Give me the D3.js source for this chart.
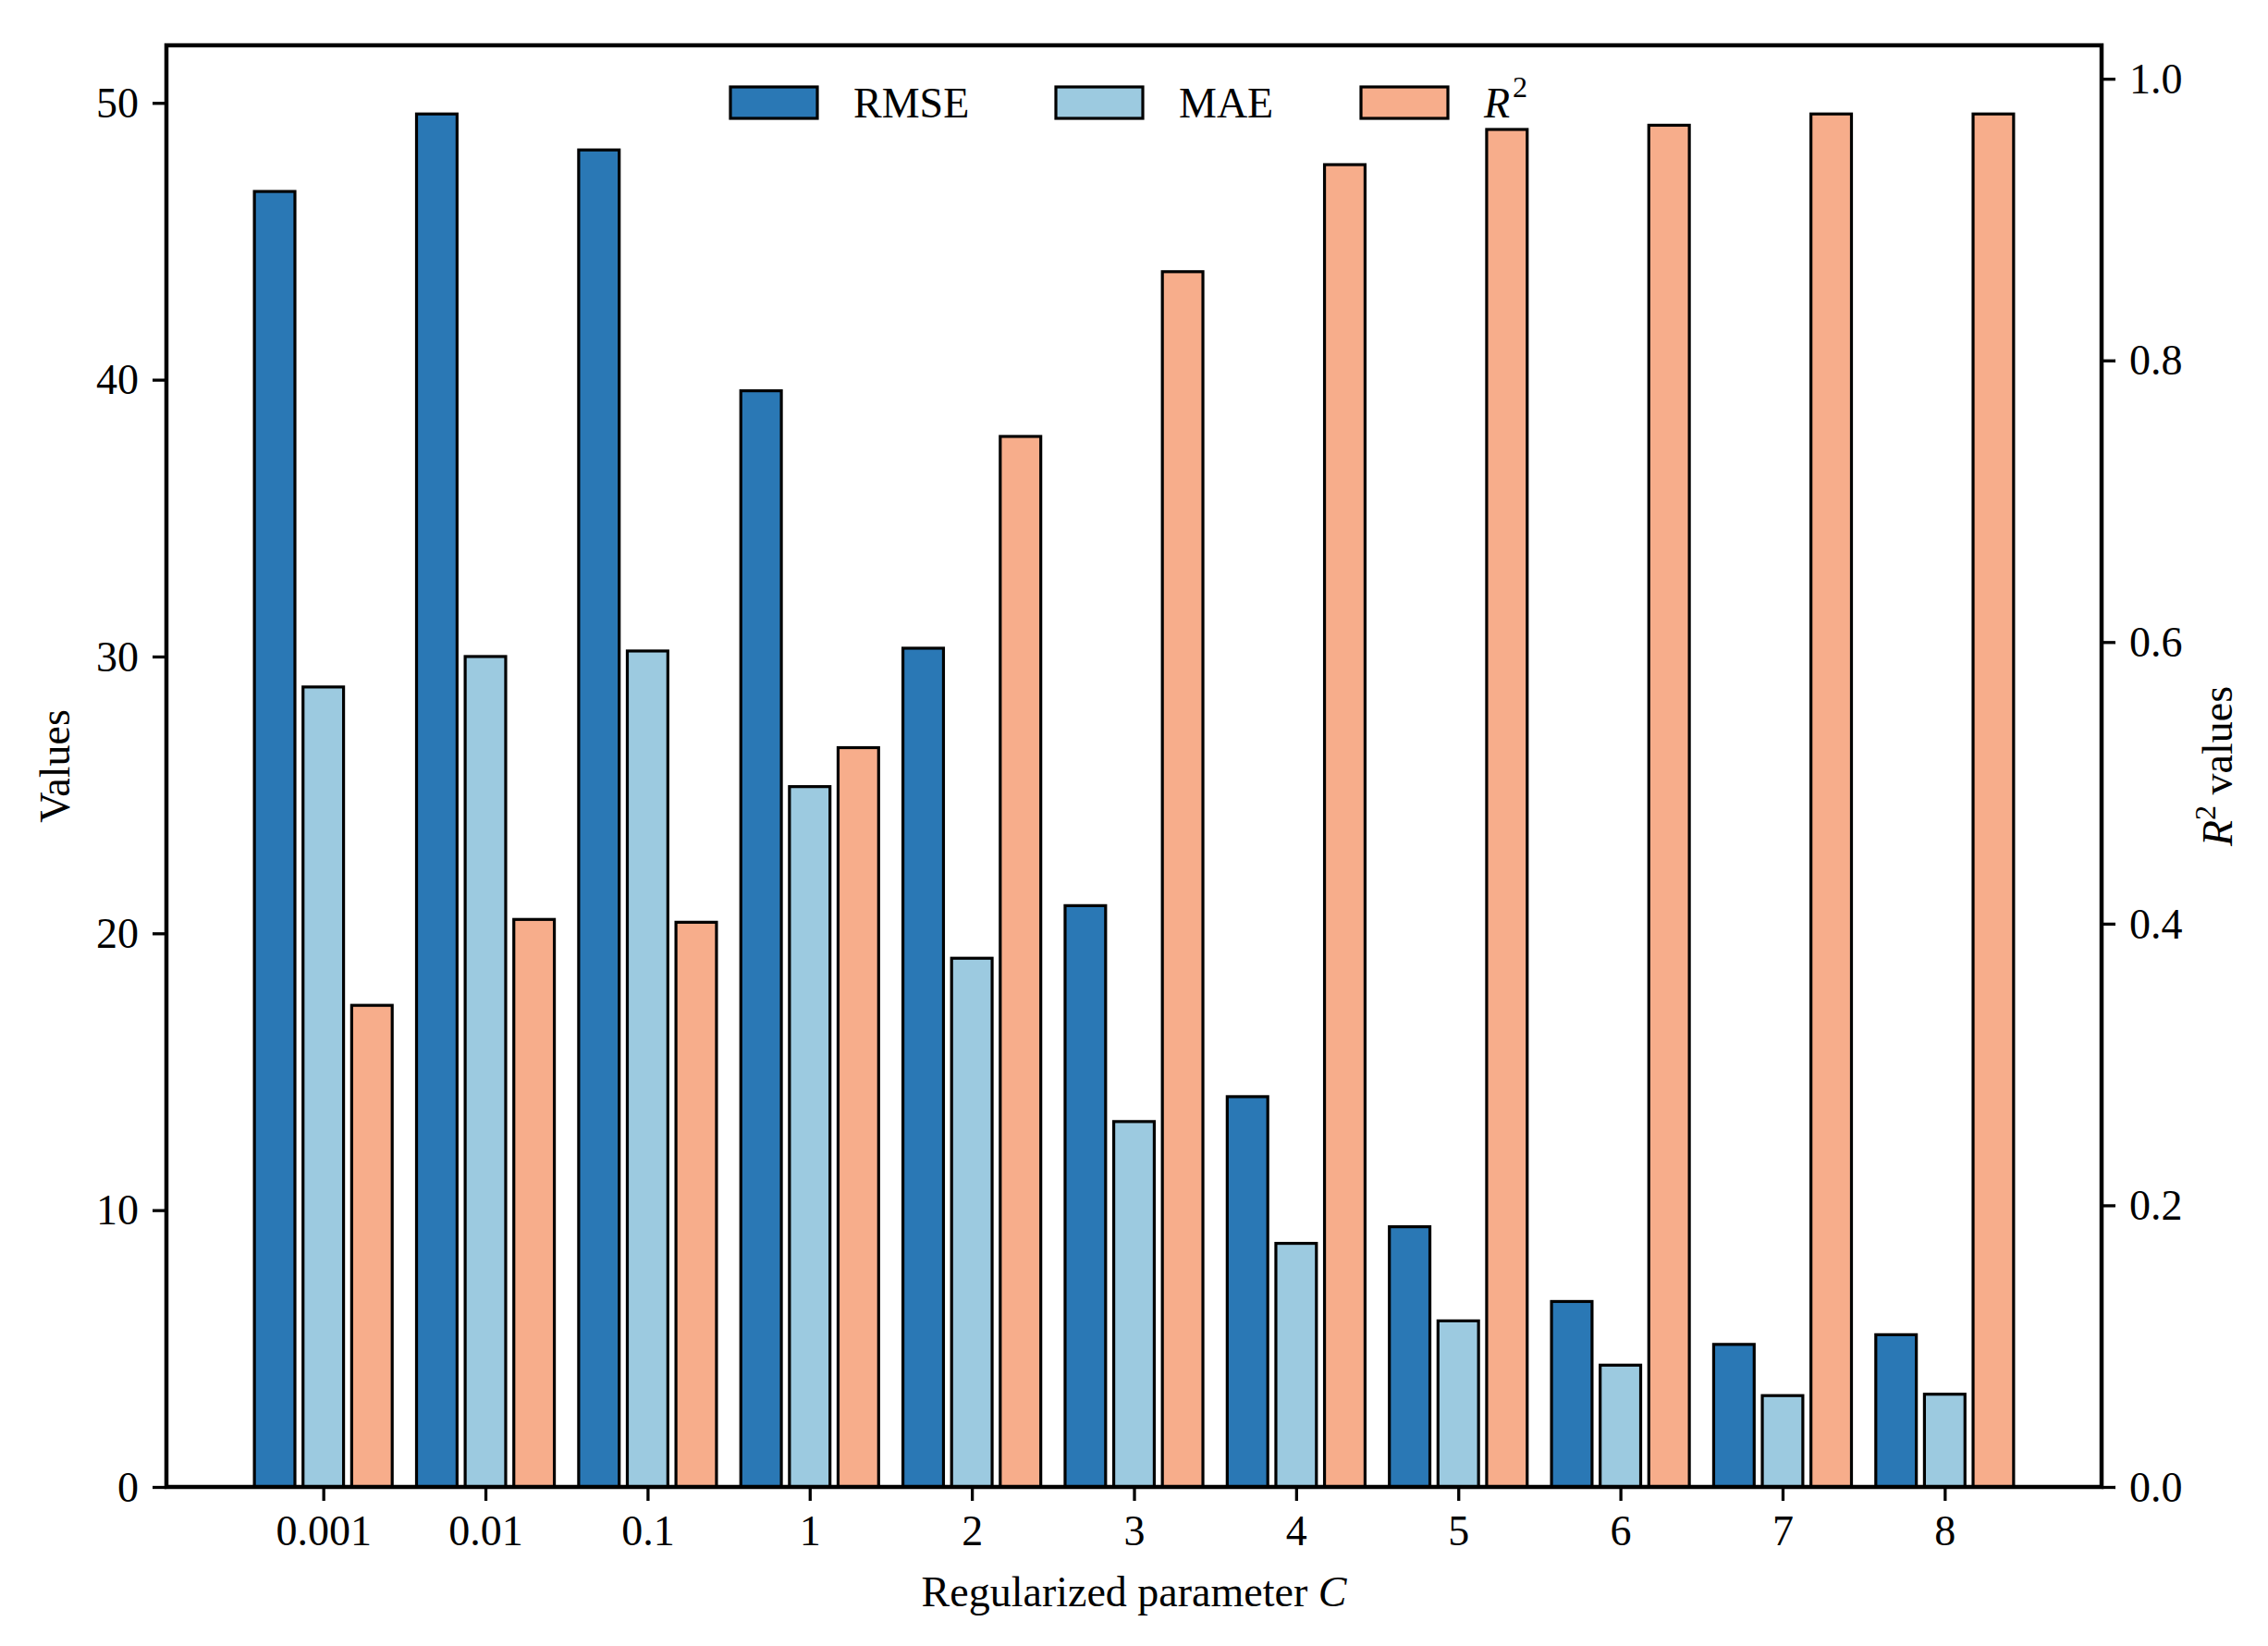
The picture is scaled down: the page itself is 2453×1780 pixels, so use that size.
<!DOCTYPE html>
<html>
<head>
<meta charset="utf-8">
<script src="https://cdn.jsdelivr.net/npm/d3@7"></script>
<style>
  html, body { margin: 0; padding: 0; background: #fff; }
  svg text { font-family: "Liberation Serif", "Times New Roman", serif; fill: #000; }
</style>
</head>
<body>
<svg id="chart" width="2453" height="1780"></svg>
<script>
// data
var categories = ["0.001", "0.01", "0.1", "1", "2", "3", "4", "5", "6", "7", "8"];
var rmse = [46.8, 49.6, 48.3, 39.6, 30.3, 21.0, 14.1, 9.4, 6.7, 5.15, 5.5];
var mae  = [28.9, 30.0, 30.2, 25.3, 19.1, 13.2, 8.8, 6.0, 4.4, 3.3, 3.35];
var r2   = [0.342, 0.403, 0.401, 0.525, 0.746, 0.863, 0.939, 0.964, 0.967, 0.975, 0.975];
var leftTicks = [0, 10, 20, 30, 40, 50];
var rightTicks = [0, 0.2, 0.4, 0.6, 0.8, 1.0];

var colors = { rmse: "#2a78b5", mae: "#9ccae0", r2: "#f7ad8b" };

var fs = 46;
var box = { left: 180, right: 2273, top: 49, bottom: 1608 };
var barW = 0.25, off = 0.3;

var svg = d3.select("#chart");

// x in index units, padded like matplotlib (5% margin)
var lo = -off - barW / 2, hi = categories.length - 1 + off + barW / 2;
var pad = (hi - lo) * 0.05;
var x = d3.scaleLinear().domain([lo - pad, hi + pad]).range([box.left, box.right]);
var yL = d3.scaleLinear().domain([0, d3.max(rmse.concat(mae)) * 1.05]).range([box.bottom, box.top]);
var yR = d3.scaleLinear().domain([0, d3.max(r2) * 1.05]).range([box.bottom, box.top]);

function drawBars(vals, scale, shift, fill) {
  svg.append("g").selectAll("rect").data(vals).enter().append("rect")
    .attr("x", function(d, i){ return x(i + shift - barW / 2); })
    .attr("width", x(barW) - x(0))
    .attr("y", function(d){ return scale(d); })
    .attr("height", function(d){ return scale(0) - scale(d); })
    .attr("fill", fill)
    .attr("stroke", "#000")
    .attr("stroke-width", 3.2);
}
drawBars(rmse, yL, -off, colors.rmse);
drawBars(mae, yL, 0, colors.mae);
drawBars(r2, yR, off, colors.r2);

// axes
var xAxis = d3.axisBottom(x).tickValues(d3.range(categories.length))
  .tickFormat(function(i){ return categories[i]; }).tickSize(15).tickPadding(15);
var gx = svg.append("g").attr("transform", "translate(0," + box.bottom + ")").call(xAxis);

var gl = svg.append("g").attr("transform", "translate(" + box.left + ",0)")
  .call(d3.axisLeft(yL).tickValues(leftTicks).tickSize(15).tickPadding(15));

var gr = svg.append("g").attr("transform", "translate(" + box.right + ",0)")
  .call(d3.axisRight(yR).tickValues(rightTicks).tickFormat(d3.format(".1f")).tickSize(15).tickPadding(15));

[gx, gl, gr].forEach(function(g){
  g.select(".domain").remove();
  g.selectAll(".tick line").attr("stroke", "#000").attr("stroke-width", 3.3);
  g.selectAll(".tick text").attr("font-size", fs).attr("font-family", "Liberation Serif");
});
gx.selectAll(".tick text").attr("dy", "0.71em");
gl.selectAll(".tick text").attr("dy", "0.33em");
gr.selectAll(".tick text").attr("dy", "0.33em");

// frame
svg.append("rect")
  .attr("x", box.left).attr("y", box.top)
  .attr("width", box.right - box.left).attr("height", box.bottom - box.top)
  .attr("fill", "none").attr("stroke", "#000").attr("stroke-width", 4.5);

// axis labels
var xl = svg.append("text").attr("x", (box.left + box.right) / 2).attr("y", 1737)
  .attr("text-anchor", "middle").attr("font-size", fs);
xl.append("tspan").text("Regularized parameter ");
xl.append("tspan").attr("font-style", "italic").text("C");

svg.append("text").attr("transform", "translate(75," + (box.top + box.bottom) / 2 + ") rotate(-90)")
  .attr("text-anchor", "middle").attr("font-size", fs).text("Values");

var rl = svg.append("text").attr("transform", "translate(2414," + (box.top + box.bottom) / 2 + ") rotate(-90)")
  .attr("text-anchor", "middle").attr("font-size", fs);
rl.append("tspan").attr("font-style", "italic").text("R");
rl.append("tspan").attr("font-size", fs * 0.7).attr("dy", -18).text("2");
rl.append("tspan").attr("dy", 18).text(" values");

// legend
var legend = [
  { key: "RMSE", color: colors.rmse, x: 790 },
  { key: "MAE", color: colors.mae, x: 1142 },
  { key: "R2", color: colors.r2, x: 1472 }
];
var lg = svg.append("g").selectAll("g").data(legend).enter().append("g")
  .attr("transform", function(d){ return "translate(" + d.x + ",94)"; });
lg.append("rect").attr("width", 94).attr("height", 34)
  .attr("fill", function(d){ return d.color; })
  .attr("stroke", "#000").attr("stroke-width", 3.2);
lg.each(function(d){
  var t = d3.select(this).append("text").attr("x", 133).attr("y", 33).attr("font-size", fs);
  if (d.key === "R2") {
    t.append("tspan").attr("font-style", "italic").text("R");
    t.append("tspan").attr("font-size", fs * 0.7).attr("dx", 3).attr("dy", -22).text("2");
  } else {
    t.text(d.key);
  }
});
</script>
</body>
</html>
